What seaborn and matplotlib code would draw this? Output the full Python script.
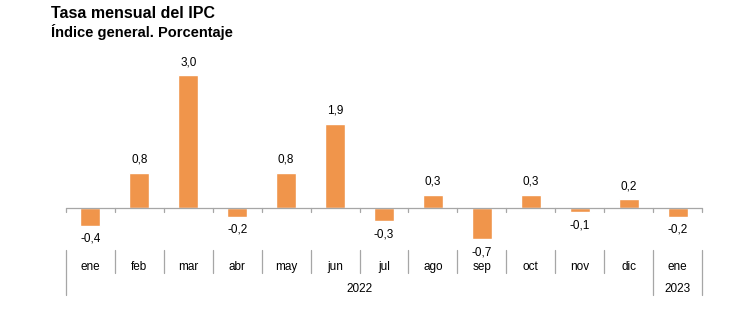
import matplotlib
matplotlib.use("Agg")
import matplotlib.pyplot as plt
import matplotlib.transforms as mtransforms
import seaborn as sns
import pandas as pd

months = ["ene", "feb", "mar", "abr", "may", "jun", "jul", "ago", "sep", "oct", "nov", "dic", "ene"]
years = ["2022"] * 12 + ["2023"]
values = [-0.4, 0.8, 3.0, -0.2, 0.8, 1.9, -0.3, 0.3, -0.7, 0.3, -0.1, 0.2, -0.2]
value_labels = ["-0,4", "0,8", "3,0", "-0,2", "0,8", "1,9", "-0,3", "0,3", "-0,7", "0,3", "-0,1", "0,2", "-0,2"]
title = "Tasa mensual del IPC"
subtitle = "Índice general. Porcentaje"

sns.set_theme(style="white")
plt.rcParams["font.family"] = ["Liberation Sans", "DejaVu Sans"]
plt.rcParams["text.color"] = "black"

df = pd.DataFrame({"key": [f"{m} {y}" for m, y in zip(months, years)], "value": values})

W, H = 747, 326
fig = plt.figure(figsize=(W / 100, H / 100), dpi=100)
px_per_unit = 44.3
zero_y = 208
top_px, bot_px = 60, 245
left_px, right_px = 66, 702
ax = fig.add_axes([left_px / W, 1 - bot_px / H, (right_px - left_px) / W, (bot_px - top_px) / H])

color = "#F0954B"
sns.barplot(data=df, x="key", y="value", color=color, width=0.41, ax=ax, saturation=1)
n = len(values)
ax.set_xlim(-0.5, n - 0.5)
ax.set_ylim(-(bot_px - zero_y) / px_per_unit, (zero_y - top_px) / px_per_unit)
for s in ax.spines.values():
    s.set_visible(False)
ax.set_xlabel("")
ax.set_ylabel("")
ax.set_xticks([])
ax.set_yticks([])

gray = "#A6A6A6"
ax.axhline(0, color=gray, lw=0.9, clip_on=False)
tick_len = 4 / px_per_unit
for b in range(n + 1):
    ax.plot([b - 0.5, b - 0.5], [0, -tick_len], color=gray, lw=0.9, clip_on=False)

off = 13 / px_per_unit
for i, (v, lab) in enumerate(zip(values, value_labels)):
    y = v + off if v >= 0 else v - off
    ax.text(i, y, lab, ha="center", va="center", fontsize=8.5, color="black")

trans = mtransforms.blended_transform_factory(ax.transData, fig.transFigure)
def fy(p):
    return 1 - p / H

for i, m in enumerate(months):
    ax.text(i, fy(267), m, ha="center", va="center", fontsize=8.5, color="black", transform=trans)
for b in range(n + 1):
    x = b - 0.5
    long_sep = (b == 0) or (b == n) or (0 < b < n and years[b - 1] != years[b])
    y_end = 295 if long_sep else 273
    ax.plot([x, x], [fy(250), fy(y_end)], color=gray, lw=0.9, transform=trans, clip_on=False)

groups = {}
for i, y in enumerate(years):
    groups.setdefault(y, []).append(i)
for y, idx in groups.items():
    xc = (idx[0] + idx[-1]) / 2
    ax.text(xc, fy(289), y, ha="center", va="center", fontsize=8.5, color="black", transform=trans)

fig.text(51 / W, fy(13), title, ha="left", va="center", fontsize=11.5, fontweight="bold", color="black")
fig.text(51 / W, fy(32), subtitle, ha="left", va="center", fontsize=10.5, fontweight="bold", color="black")

fig.savefig("out.png", dpi=100)
